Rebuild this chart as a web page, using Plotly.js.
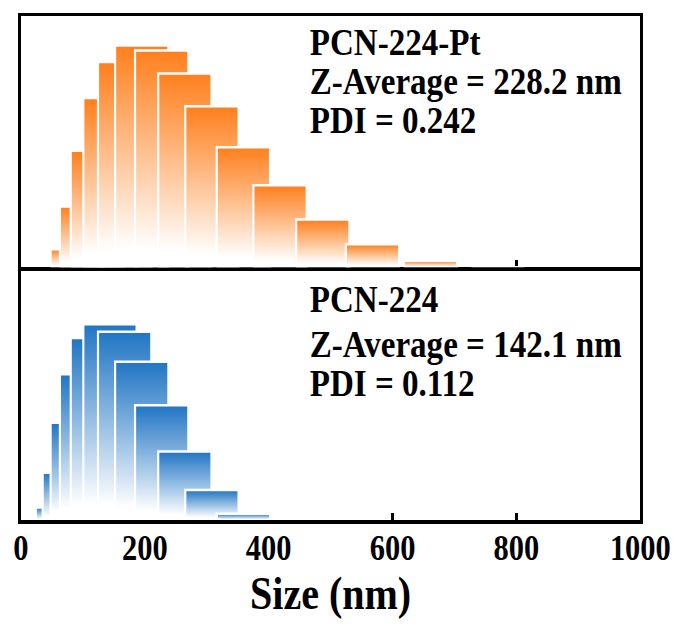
<!DOCTYPE html>
<html>
<head>
<meta charset="utf-8">
<script src="https://cdn.plot.ly/plotly-3.0.1.min.js"></script>
<style>
  html, body { margin: 0; padding: 0; overflow: hidden; background: #fff; }
  #wrap { width: 681px; height: 630px; overflow: hidden; }
  /* serif text in this figure is set slightly condensed */
  #chart { width: 783px; height: 630px; transform: scaleX(0.87); transform-origin: 0 0; }
</style>
</head>
<body>
<div id="wrap"><div id="chart"></div></div>
<script>
// DLS intensity distributions (size in nm, intensity in %)
const sizesPt = [91.0, 106.0, 123.5, 143.8, 167.5, 195.1, 227.3, 264.7, 308.4, 359.2, 418.4, 487.4, 567.7, 661.3, 770.3];
const intensityPt = [1.1, 3.7, 7.1, 10.3, 12.5, 13.5, 13.2, 11.8, 9.8, 7.3, 5.0, 2.9, 1.4, 0.4, 0];

const sizesBare = [67.1, 78.2, 91.0, 106.0, 123.5, 143.8, 167.5, 195.1, 227.3, 264.7, 308.4, 359.2];
const intensityBare = [1.0, 3.8, 7.8, 11.7, 14.6, 15.7, 15.1, 12.7, 9.2, 5.5, 2.4, 0.5];

const labelsPt = ['PCN-224-Pt', 'Z-Average = 228.2 nm', 'PDI = 0.242'];
const labelsBare = ['PCN-224', 'Z-Average = 142.1 nm', 'PDI = 0.112'];

const xTicks = [0, 200, 400, 600, 800, 1000];

const ORANGE = '#ff7f1c';
const BLUE = '#2075c4';
const BAR_W = 86;
const FONT = 'Liberation Serif, Times New Roman, serif';

// each bin is a filled rectangle with a white rim and a vertical white-to-colour gradient;
// later bins are drawn over earlier ones
function binTrace(center, value, color, xa, ya) {
  const x0 = center - BAR_W / 2, x1 = center + BAR_W / 2;
  const t = {
    type: 'scatter', mode: 'lines',
    x: [x0, x0, x1, x1, x0],
    y: [0, value, value, 0, 0],
    fill: 'toself',
    fillcolor: '#ffffff',
    line: { color: '#ffffff', width: 2.5 },
    hoverinfo: 'skip', showlegend: false,
    xaxis: xa, yaxis: ya
  };
  if (value > 0) {
    t.fillgradient = { type: 'vertical', colorscale: [[0, '#ffffff'], [0.08, '#ffffff'], [1, color]] };
  }
  return t;
}

const traces = [];
sizesBare.forEach((s, i) => traces.push(binTrace(s, intensityBare[i], BLUE, 'x', 'y')));
sizesPt.forEach((s, i) => traces.push(binTrace(s, intensityPt[i], ORANGE, 'x2', 'y2')));

const frame = {
  showline: true, linecolor: '#000', linewidth: 3.5, mirror: true,
  zeroline: false, showgrid: false, layer: 'below traces', fixedrange: true
};

function textBlock(lines, ys) {
  return lines.map((txt, i) => ({
    xref: 'paper', yref: 'paper', x: 0.4637, y: ys[i],
    xanchor: 'left', yanchor: 'middle', showarrow: false,
    text: txt,
    font: { family: FONT, size: 38, weight: 'bold', color: '#000' }
  }));
}

const layout = {
  width: 783, height: 630,
  margin: { l: 23.6, r: 46.6, t: 16, b: 109.5 },
  paper_bgcolor: '#fff', plot_bgcolor: '#fff',
  showlegend: false,
  xaxis: Object.assign({}, frame, {
    anchor: 'y', range: [0, 1000],
    tickmode: 'array', tickvals: xTicks, ticktext: xTicks.map(String),
    ticks: 'inside', ticklen: 7, tickwidth: 3, tickcolor: '#000',
    ticklabelstandoff: -5,
    tickfont: { family: FONT, size: 35, weight: 'bold', color: '#000' },
    title: { text: 'Size (nm)', font: { family: FONT, size: 46, weight: 'bold', color: '#000' }, standoff: 10 },
    automargin: false
  }),
  yaxis: Object.assign({}, frame, {
    domain: [0, 0.4945], range: [0, 20.0], showticklabels: false, ticks: ''
  }),
  xaxis2: Object.assign({}, frame, {
    anchor: 'y2', range: [0, 1000],
    tickmode: 'array', tickvals: xTicks,
    ticks: 'inside', ticklen: 7, tickwidth: 3, tickcolor: '#000',
    showticklabels: false
  }),
  yaxis2: Object.assign({}, frame, {
    domain: [0.5015, 1], range: [0, 15.3], showticklabels: false, ticks: ''
  }),
  annotations: textBlock(labelsPt, [0.9485, 0.8712, 0.7939])
    .concat(textBlock(labelsBare, [0.439, 0.3499, 0.2726]))
};

Plotly.newPlot('chart', traces, layout, { displayModeBar: false, staticPlot: true }).then(gd => {
  // let the white rims of the bins sit over the baseline of the frame
  gd.querySelectorAll('.subplot .plot, .subplot .plot [clip-path]').forEach(el => el.removeAttribute('clip-path'));
});
</script>
</body>
</html>
